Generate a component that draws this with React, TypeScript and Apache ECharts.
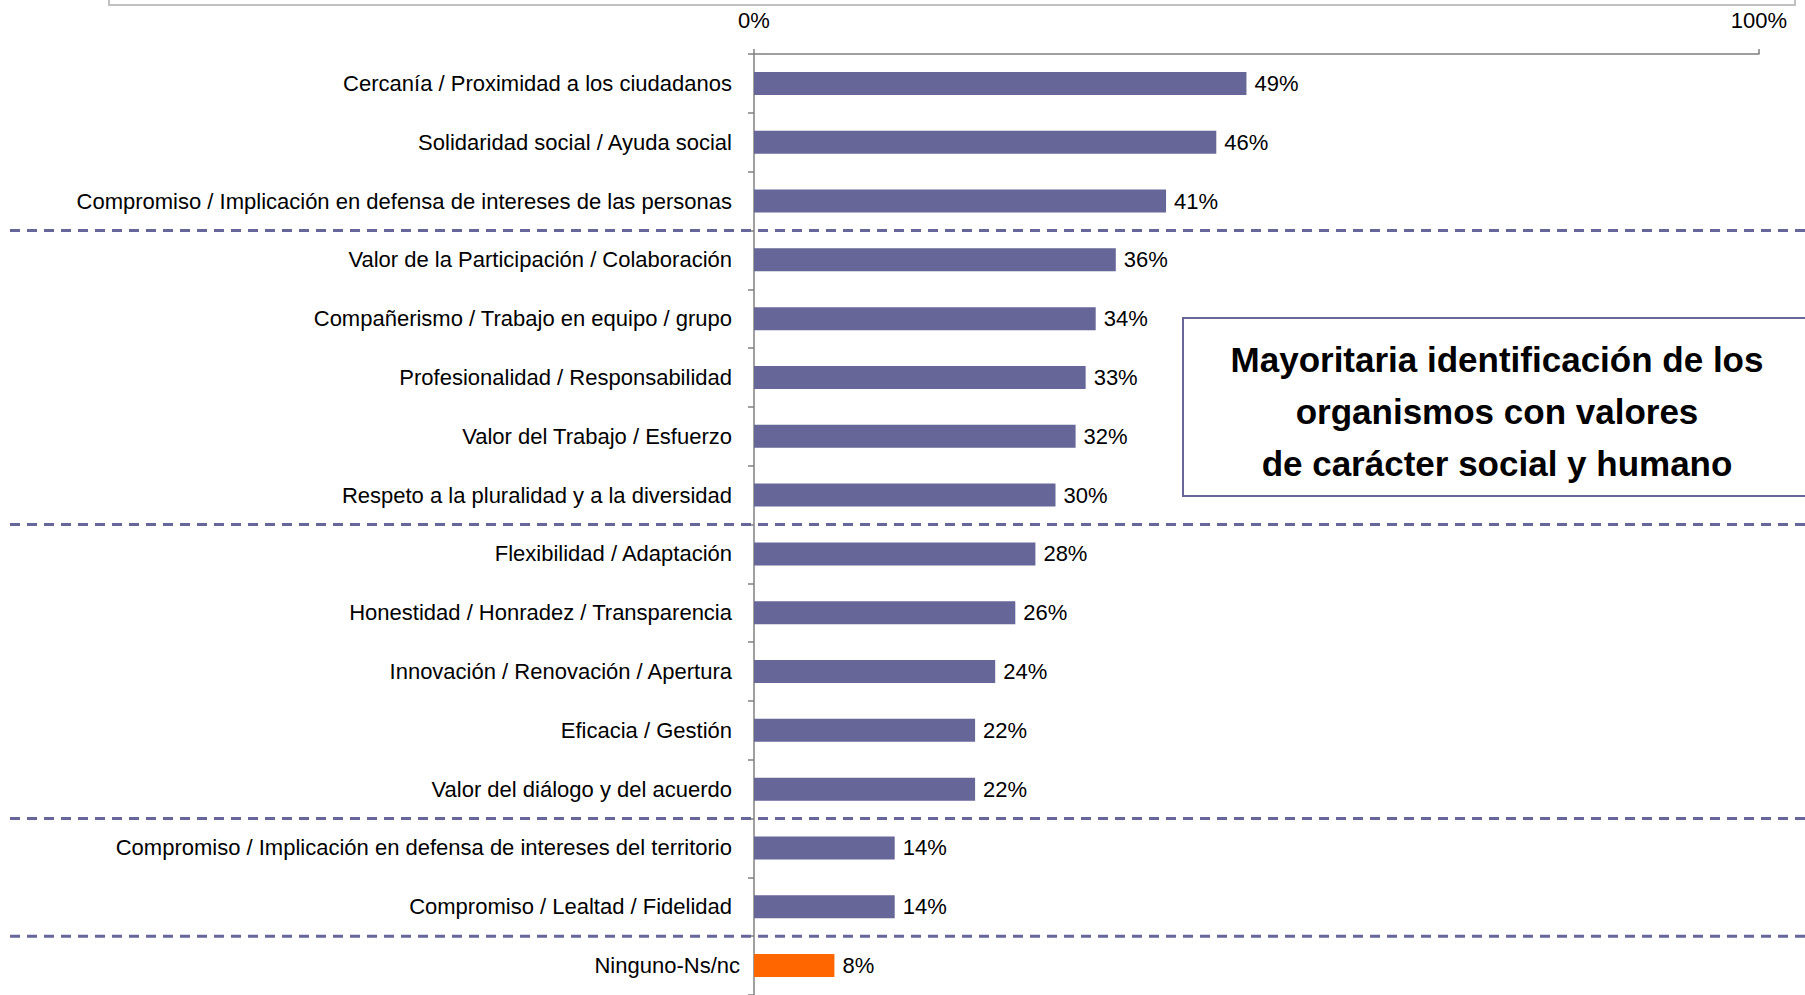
import React, { useEffect, useRef } from "react";
import * as echarts from "echarts";

const categories = [
  "Cercanía / Proximidad a los ciudadanos",
  "Solidaridad social / Ayuda social",
  "Compromiso / Implicación en defensa de intereses de las personas",
  "Valor de la Participación / Colaboración",
  "Compañerismo / Trabajo en equipo / grupo",
  "Profesionalidad / Responsabilidad",
  "Valor del Trabajo / Esfuerzo",
  "Respeto a la pluralidad y a la diversidad",
  "Flexibilidad / Adaptación",
  "Honestidad / Honradez / Transparencia",
  "Innovación / Renovación / Apertura",
  "Eficacia / Gestión",
  "Valor del diálogo y del acuerdo",
  "Compromiso / Implicación en defensa de intereses del territorio",
  "Compromiso / Lealtad / Fidelidad",
  "Ninguno-Ns/nc",
];
const values = [49, 46, 41, 36, 34, 33, 32, 30, 28, 26, 24, 22, 22, 14, 14, 8];
const groupStarts = [3, 8, 13, 15];
const highlightCategory = "Ninguno-Ns/nc";
const xTicks = [0, 100];
const boxLines = [
  "Mayoritaria identificación de los",
  "organismos con valores",
  "de carácter social y humano",
];

const FONT = "'Liberation Sans', Arial, Helvetica, sans-serif";
const BAR = "#666699";
const ORANGE = "#FF6600";

export default function App() {
  const ref = useRef<HTMLDivElement>(null);
  useEffect(() => {
    if (!ref.current) return;
    const chart = echarts.init(ref.current, undefined, { renderer: "svg" });
    chart.setOption({
      animation: false,
      backgroundColor: "#ffffff",
      textStyle: { fontFamily: FONT },
      grid: { left: 754, top: 54, width: 1005, height: 941, containLabel: false },
      xAxis: {
        type: "value",
        position: "top",
        min: xTicks[0],
        max: xTicks[xTicks.length - 1],
        interval: 100,
        axisLine: { show: true, lineStyle: { color: "#808080", width: 1.5 } },
        axisTick: { show: true, length: 5, lineStyle: { color: "#808080", width: 1.5 } },
        axisLabel: {
          formatter: "{value}%",
          fontSize: 22,
          color: "#000",
          fontFamily: FONT,
          margin: 23,
        },
        splitLine: { show: false },
      },
      yAxis: {
        type: "category",
        inverse: true,
        data: categories,
        axisLine: { show: true, lineStyle: { color: "#808080", width: 1.5 } },
        axisTick: { show: true, length: 6, lineStyle: { color: "#808080", width: 1.5 } },
        axisLabel: {
          fontSize: 22,
          color: "#000",
          fontFamily: FONT,
          margin: 14,
          formatter: (v: string) => (v === highlightCategory ? `{n|${v}}` : `{p|${v}}`),
          rich: {
            p: { fontSize: 22, color: "#000", fontFamily: FONT, padding: [0, 8, 0, 0] },
            n: { fontSize: 22, color: "#000", fontFamily: FONT },
          },
        },
      },
      series: [
        {
          type: "bar",
          barWidth: 23,
          data: values.map((v, i) => ({
            value: v,
            itemStyle: { color: categories[i] === highlightCategory ? ORANGE : BAR },
          })),
          label: {
            show: true,
            position: "right",
            distance: 8,
            formatter: "{c}%",
            fontSize: 22,
            color: "#000",
            fontFamily: FONT,
          },
        },
      ],
    });

    const yOf = (i: number) => chart.convertToPixel({ yAxisIndex: 0 }, categories[i]) as number;
    const seps = groupStarts.map((g) => {
      const y = (yOf(g - 1) + yOf(g)) / 2;
      return {
        type: "line",
        silent: true,
        z: 100,
        shape: { x1: 10, y1: y, x2: 1805, y2: y },
        style: { stroke: "#66669a", lineWidth: 3, lineDash: [10, 7] },
      };
    });

    chart.setOption({
      graphic: [
        {
          type: "rect",
          silent: true,
          shape: { x: 109, y: -100, width: 1686, height: 105 },
          style: { fill: "none", stroke: "#c0c0c0", lineWidth: 2 },
        },
        ...seps,
        {
          type: "rect",
          silent: true,
          z: 110,
          shape: { x: 1183, y: 318, width: 700, height: 178 },
          style: { fill: "#ffffff", stroke: "#666699", lineWidth: 2 },
        },
        {
          type: "text",
          silent: true,
          z: 120,
          x: 1497,
          y: 411,
          style: {
            text: boxLines.join("\n"),
            font: `bold 35px ${FONT}`,
            fill: "#000",
            textAlign: "center",
            textVerticalAlign: "middle",
            lineHeight: 52,
          },
        },
      ],
    });

    return () => chart.dispose();
  }, []);
  return (
    <div
      ref={ref}
      style={{ position: "fixed", left: 0, top: 0, width: 1805, height: 995, background: "#fff" }}
    />
  );
}
